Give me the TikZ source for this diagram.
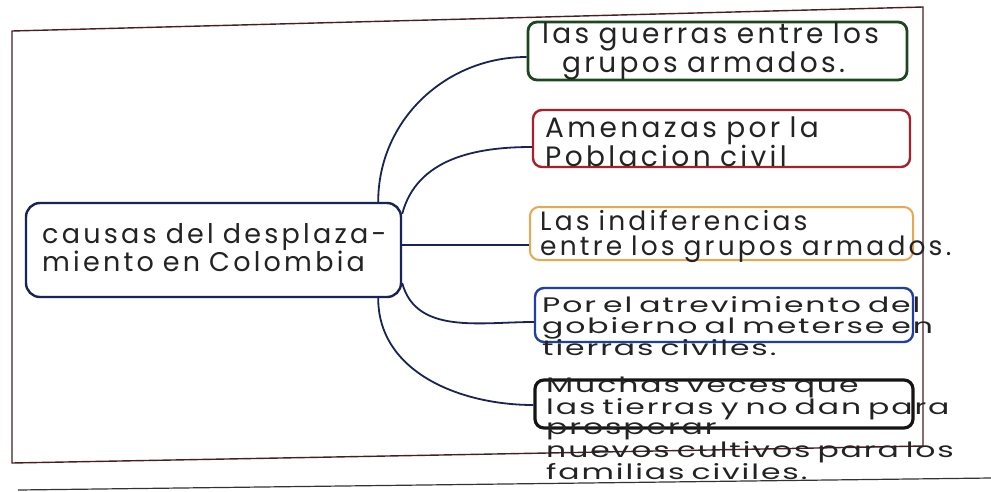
\documentclass[tikz,border=0pt]{standalone}
\usepackage{fontspec}
\setmainfont{Poppins}
\newfontfamily\handfont{Poppins}[LetterSpace=12,WordSpace=1.6]
\newfontfamily\apretada{Poppins}[FakeStretch=1.5,LetterSpace=9]
\usetikzlibrary{positioning}

\definecolor{navy}{RGB}{25,35,85}
\definecolor{verde}{RGB}{30,70,32}
\definecolor{rojo}{RGB}{170,32,42}
\definecolor{naranja}{RGB}{232,168,82}
\definecolor{azul}{RGB}{32,62,165}
\definecolor{negro}{RGB}{20,20,20}
\definecolor{marron}{RGB}{75,28,32}
\definecolor{tinta}{RGB}{35,35,35}

\tikzset{
	causa/.style={draw, rounded corners=9pt, line width=2.4pt, inner sep=0pt},
	texto/.style={anchor=base west, inner sep=0pt, align=left, text width=470pt,
		text=tinta, font=\handfont\fontsize{28}{#1}\selectfont},
	texto chico/.style={texto, font=\apretada\fontsize{21}{#1}\selectfont},
	rama/.style={draw=navy, line width=1.8pt},
	marco/.style={draw=marron, line width=1.4pt},
	renglon/.style={draw=black!80, line width=1.2pt}
}

\begin{document}
\begin{tikzpicture}[x=1pt,y=-1pt]
	\useasboundingbox (0,0) rectangle (991,491);

	% hoja
	\draw[marco] (12,31) -- (923,7) -- (923,446) -- (12,463) -- cycle;
	\draw[renglon] (18,490) -- (991,478);

	% cajas
	\node[causa, draw=navy, rounded corners=14pt, minimum width=375pt, minimum height=94pt]
		(causas) at (213.5,250) {};
	\node[causa, draw=verde, line width=2.8pt, minimum width=379pt, minimum height=58pt]
		(guerras) at (717.5,51) {};
	\node[causa, draw=rojo, minimum width=377pt, minimum height=57pt]
		(amenazas) at (721.5,138.5) {};
	\node[causa, draw=naranja, line width=2pt, minimum width=383pt, minimum height=53pt]
		(indiferencias) at (721.5,233.5) {};
	\node[causa, draw=azul, minimum width=378pt, minimum height=54pt]
		(gobierno) at (724,315) {};
	\node[causa, draw=negro, line width=3.2pt, minimum width=378pt, minimum height=48pt]
		(tierras) at (724,404) {};

	% textos
	\node[texto, font=\handfont\fontsize{27}{22}\selectfont] (causas-txt) at (42,243)
		{causas del desplaza-\\miento en Colombia};
	\node[texto=29] (guerras-txt) at (542,43) {las guerras entre los\\\hspace*{20pt}grupos armados.};
	\node[texto=23] (amenazas-txt) at (545,137) {Amenazas por la\\Poblacion civil};
	\node[texto, font=\handfont\fontsize{26.5}{25}\selectfont] (indiferencias-txt) at (540,230)
		{Las indiferencias\\entre los grupos armados.};
	\node[texto chico=21] (gobierno-txt) at (542,312) {Por el atrevimiento del\\gobierno al meterse en\\tierras civiles.};
	\node[texto chico=20.5] (tierras-txt) at (546,392) {Muchas veces que\\las tierras y no dan para\\prosperar\\nuevos cultivos para los\\familias civiles.};

	% ramas
	\draw[rama] ([xshift=-24pt]causas.north east) to[out=90,in=180] ([yshift=-6pt]guerras.west);
	\draw[rama] ([yshift=-12pt]causas.north east) to[out=75,in=180] ([yshift=-8.5pt]amenazas.west);
	\draw[rama] ([yshift=5pt]causas.east) -- ([yshift=5pt]causas.east -| indiferencias.west);
	\draw[rama] ([yshift=-33pt]causas.east) to[out=-75,in=180] ([yshift=-7pt]gobierno.west);
	\draw[rama] ([xshift=-24pt]causas.south east) to[out=-90,in=180] ([yshift=-1pt]tierras.west);
\end{tikzpicture}
\end{document}
